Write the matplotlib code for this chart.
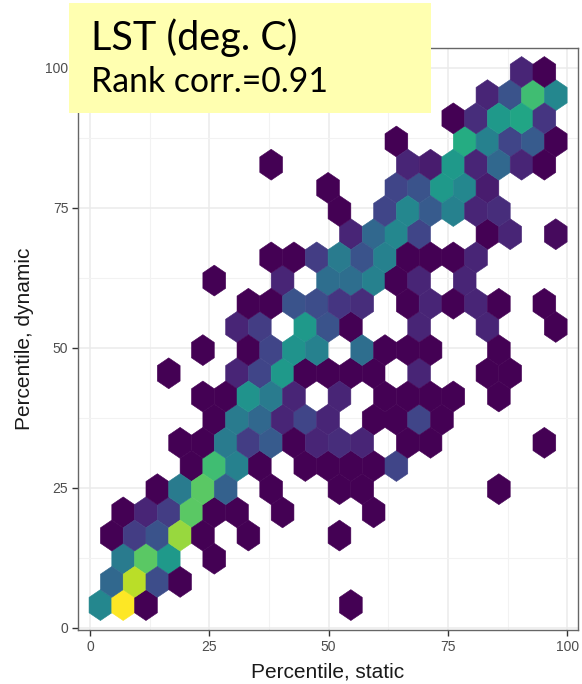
import numpy as np
import matplotlib
matplotlib.use("Agg")
import matplotlib.pyplot as plt
from matplotlib.patches import Rectangle

# hex lattice (data units)
bin_dx = 4.77      # centre to centre inside one row
row_dy = 4.14      # row to row
x_start = 2.2
y_start = 4.05
n_cols = 20
n_rows2 = 12       # hexbin counts pairs of rows

# one entry per hexagon: row of the lattice, column inside the row, count
hex_row = [0, 0, 0, 0,
           1, 1, 1, 1,
           2, 2, 2, 2,
           3, 3, 3, 3, 3, 3, 3,
           4, 4, 4, 4, 4, 4, 4, 4,
           5, 5, 5, 5, 5, 5, 5, 5,
           6, 6, 6, 6, 6, 6, 6, 6, 6,
           7, 7, 7, 7, 7, 7, 7, 7, 7, 7, 7, 7,
           8, 8, 8, 8, 8, 8, 8, 8, 8, 8,
           9, 9, 9, 9, 9, 9, 9, 9, 9, 9, 9,
           10, 10, 10, 10, 10, 10, 10, 10, 10, 10, 10,
           11, 11, 11, 11, 11, 11, 11, 11, 11, 11,
           12, 12, 12, 12, 12, 12, 12, 12,
           13, 13, 13, 13, 13, 13, 13, 13, 13, 13, 13, 13,
           14, 14, 14, 14, 14, 14, 14, 14,
           15, 15, 15, 15, 15, 15, 15, 15, 15, 15,
           16, 16, 16, 16, 16, 16, 16,
           17, 17, 17, 17, 17, 17, 17,
           18, 18, 18, 18, 18, 18,
           19, 19, 19, 19, 19, 19, 19, 19,
           20, 20, 20, 20, 20, 20,
           21, 21, 21, 21, 21,
           22, 22, 22, 22,
           23, 23]
hex_col = [0, 1, 2, 11,
           0, 1, 2, 3,
           1, 2, 3, 5,
           0, 1, 2, 3, 4, 6, 10,
           1, 2, 3, 4, 5, 6, 8, 12,
           2, 3, 4, 5, 7, 10, 11, 17,
           4, 5, 6, 7, 9, 10, 11, 12, 13,
           3, 4, 5, 6, 7, 8, 9, 10, 11, 13, 14, 19,
           5, 6, 7, 8, 9, 10, 12, 13, 14, 15,
           4, 5, 6, 7, 8, 10, 12, 13, 14, 15, 17,
           3, 6, 7, 8, 9, 10, 11, 12, 14, 17, 18,
           4, 6, 7, 8, 9, 11, 12, 13, 14, 17,
           6, 7, 9, 10, 11, 14, 17, 20,
           6, 7, 8, 9, 10, 11, 13, 14, 15, 16, 17, 19,
           5, 8, 10, 11, 12, 13, 14, 16,
           7, 8, 9, 10, 11, 12, 13, 14, 15, 16,
           11, 12, 13, 14, 17, 18, 20,
           10, 12, 13, 14, 15, 16, 17,
           10, 13, 14, 15, 16, 17,
           7, 13, 14, 15, 16, 17, 18, 19,
           13, 16, 17, 18, 19, 20,
           15, 16, 17, 18, 19,
           17, 18, 19, 20,
           18, 19]
hex_count = [19, 40, 1, 1,
             14, 36, 10, 1,
             17, 30, 22, 1,
             1, 8, 11, 34, 1, 1, 1,
             1, 5, 8, 30, 1, 1, 1, 1,
             1, 17, 30, 13, 1, 1, 1, 1,
             1, 28, 18, 1, 1, 1, 1, 1, 9,
             1, 1, 17, 8, 12, 1, 5, 6, 5, 1, 1, 1,
             1, 17, 14, 5, 9, 5, 1, 1, 9, 1,
             1, 1, 21, 17, 5, 5, 1, 1, 1, 1, 1,
             1, 5, 9, 22, 1, 1, 1, 1, 5, 1, 1,
             1, 1, 9, 21, 18, 15, 1, 1, 1, 1,
             5, 8, 22, 11, 1, 5, 5, 1,
             1, 1, 11, 10, 7, 6, 1, 5, 1, 5, 1, 1,
             1, 5, 15, 15, 18, 1, 5, 5,
             1, 1, 8, 17, 11, 18, 1, 1, 1, 5,
             5, 14, 19, 9, 1, 5, 2,
             1, 9, 19, 12, 18, 5, 6,
             1, 9, 11, 22, 19, 4,
             1, 5, 4, 22, 5, 14, 5, 1,
             1, 25, 18, 9, 12, 1,
             1, 6, 22, 24, 7,
             5, 11, 28, 19,
             5, 1]

x_ticks = [0, 25, 50, 75, 100]
y_ticks = [0, 25, 50, 75, 100]
x_title = "Percentile, static"
y_title = "Percentile, dynamic"
box_line1 = "LST (deg. C)"
box_line2 = "Rank corr.=0.91"

# centres of the hexagons
rows = np.array(hex_row)
cols = np.array(hex_col)
hx = x_start + cols * bin_dx + (rows % 2) * bin_dx / 2
hy = y_start + rows * row_dy

W, H = 582, 684
fig = plt.figure(figsize=(W / 100, H / 100), dpi=100)
ax = fig.add_axes([78 / W, 54 / H, (577.7 - 78) / W, (630 - 48.3) / H])

ax.hexbin(hx, hy, C=hex_count, reduce_C_function=np.sum,
          gridsize=(n_cols, n_rows2),
          extent=(x_start, x_start + n_cols * bin_dx,
                  y_start, y_start + n_rows2 * 2 * row_dy),
          cmap="viridis", vmin=1, vmax=40,
          linewidths=0.4, edgecolors="face", zorder=2)

ax.set_xlim(-2.5, 102.2)
ax.set_ylim(-0.4, 103.5)
ax.set_xticks(x_ticks)
ax.set_yticks(y_ticks)
ax.set_xticks([12.5, 37.5, 62.5, 87.5], minor=True)
ax.set_yticks([12.5, 37.5, 62.5, 87.5], minor=True)
ax.grid(which="major", color="#ebebeb", lw=1.1)
ax.grid(which="minor", color="#f2f2f2", lw=0.8)
ax.set_axisbelow(True)
ax.tick_params(which="minor", length=0)
ax.tick_params(which="major", length=4, width=1, color="#333333",
               labelcolor="#4d4d4d", labelsize=10, pad=3)
for s in ax.spines.values():
    s.set_color("#666666")
    s.set_linewidth(1.0)

for lab in ax.get_xticklabels() + ax.get_yticklabels():
    lab.set_family("Liberation Sans")
ax.set_xlabel(x_title, fontsize=15, family="Liberation Sans", color="#1a1a1a", labelpad=6)
ax.set_ylabel(y_title, fontsize=15, family="Liberation Sans", color="#1a1a1a", labelpad=8)

# yellow note box on top of the figure
fig.patches.append(Rectangle((69 / W, 1 - 112.7 / H), (430.6 - 69) / W, (112.7 - 3.3) / H,
                             transform=fig.transFigure, facecolor="#ffffb0",
                             edgecolor="none", zorder=10))
fig.text(91 / W, 1 - 50 / H, box_line1, fontsize=28.5, family="Lato",
         va="baseline", zorder=11)
fig.text(91 / W, 1 - 92 / H, box_line2, fontsize=24.3, family="Lato",
         va="baseline", zorder=11)

fig.savefig("out.png", dpi=100)
